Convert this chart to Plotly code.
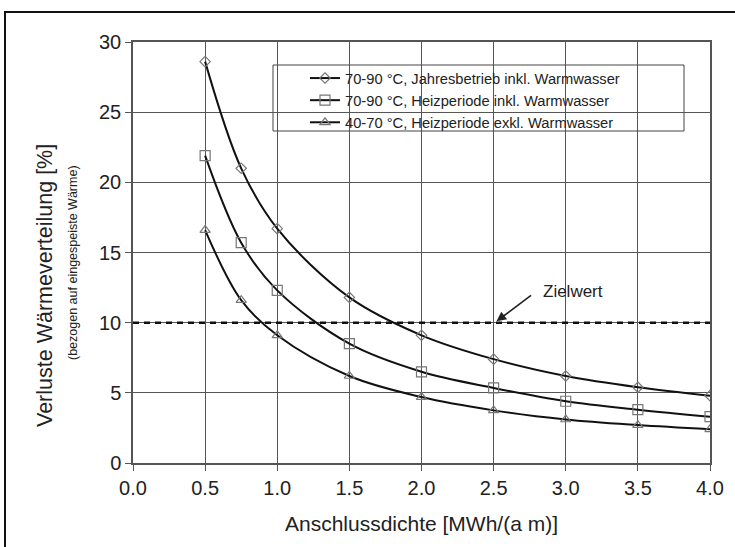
import plotly.graph_objects as go

x_vals = [0.5, 0.75, 1.0, 1.5, 2.0, 2.5, 3.0, 3.5, 4.0]
s1 = [28.6, 21.0, 16.7, 11.8, 9.1, 7.4, 6.2, 5.4, 4.8]
s2 = [21.9, 15.7, 12.3, 8.5, 6.5, 5.35, 4.4, 3.8, 3.3]
s3 = [16.6, 11.6, 9.1, 6.2, 4.7, 3.75, 3.1, 2.7, 2.4]
names = ["70-90 °C, Jahresbetrieb inkl. Warmwasser",
         "70-90 °C, Heizperiode inkl. Warmwasser",
         "40-70 °C, Heizperiode exkl. Warmwasser"]
symbols = ["diamond-open", "square-open", "triangle-up-open"]
sizes = [8, 10, 9]
x_ticks = [0.0, 0.5, 1.0, 1.5, 2.0, 2.5, 3.0, 3.5, 4.0]
x_ticktext = ["0.0", "0.5", "1.0", "1.5", "2.0", "2.5", "3.0", "3.5", "4.0"]
y_ticks = [0, 5, 10, 15, 20, 25, 30]
target = 10

FONT = "Liberation Sans, Arial, sans-serif"
TXT = "#222222"
GRID = "#555555"

fig = go.Figure()
for ys, nm, sym, sz in zip([s1, s2, s3], names, symbols, sizes):
    fig.add_trace(go.Scatter(
        x=x_vals, y=ys, name=nm, mode="lines+markers",
        line=dict(color="#111111", width=2, shape="spline", smoothing=1.0),
        marker=dict(symbol=sym, size=sz, color="#777777", line=dict(width=1.2, color="#777777")),
    ))

fig.add_trace(go.Scatter(
    x=[0.0, 4.0], y=[target, target], mode="lines", showlegend=False,
    line=dict(color="#111111", width=2.5, dash="6px,5px"), hoverinfo="skip"))

# plot area in pixels: x 133..710, y 42..463
L, R, T, B = 133, 710, 42, 463
W, H = R - L, B - T
def px(p): return (p - L) / W
def py(p): return (B - p) / H

shapes = [
    dict(type="rect", xref="paper", yref="paper",
         x0=px(5), x1=px(745), y0=py(12), y1=py(560),
         line=dict(color="#111111", width=2), layer="above"),
    dict(type="rect", xref="paper", yref="paper",
         x0=px(273), x1=px(684), y0=py(65), y1=py(131),
         line=dict(color="#444444", width=1), fillcolor="white", layer="below"),
]

annotations = [
    dict(x=2.52, y=10.1, xref="x", yref="y", ax=36, ay=-27, axref="pixel", ayref="pixel",
         text="", showarrow=True, arrowhead=2, arrowsize=1.2, arrowwidth=1.6, arrowcolor="#222222"),
    dict(x=3.05, y=12.2, xref="x", yref="y", text="Zielwert", showarrow=False,
         font=dict(family=FONT, size=17, color=TXT)),
    dict(x=px(45), y=py(286), xref="paper", yref="paper", text="Verluste Wärmeverteilung [%]",
         xanchor="center", yanchor="middle",
         textangle=-90, showarrow=False, font=dict(family=FONT, size=21.5, color=TXT)),
    dict(x=px(73), y=py(263), xref="paper", yref="paper", text="(bezogen auf eingespeiste Wärme)",
         xanchor="center", yanchor="middle",
         textangle=-90, showarrow=False, font=dict(family=FONT, size=12.5, color=TXT)),
]

fig.update_layout(
    width=735, height=547,
    margin=dict(l=L, r=735 - R, t=T, b=547 - B),
    paper_bgcolor="white", plot_bgcolor="white",
    font=dict(family=FONT, color=TXT),
    shapes=shapes, annotations=annotations,
    legend=dict(x=px(305), y=py(62), xanchor="left", yanchor="top",
                bgcolor="rgba(0,0,0,0)", borderwidth=0,
                font=dict(family=FONT, size=14.7, color=TXT),
                tracegroupgap=0, itemwidth=30),
    xaxis=dict(range=[0, 4.0], tickvals=x_ticks, ticktext=x_ticktext,
               showgrid=True, gridcolor=GRID, gridwidth=1.3,
               showline=True, linecolor=GRID, linewidth=1.5, mirror=True,
               ticks="outside", ticklen=6, tickcolor=GRID, zeroline=False,
               tickfont=dict(family=FONT, size=20, color=TXT),
               title=dict(text="Anschlussdichte [MWh/(a m)]", standoff=19,
                          font=dict(family=FONT, size=21, color=TXT))),
    yaxis=dict(range=[0, 30], tickvals=y_ticks,
               showgrid=True, gridcolor=GRID, gridwidth=1.3,
               showline=True, linecolor=GRID, linewidth=1.5, mirror=True,
               ticks="outside", ticklen=6, tickcolor=GRID, zeroline=False,
               tickfont=dict(family=FONT, size=20, color=TXT)),
)

fig.write_html("out.html", config={"displayModeBar": False},
               post_script="document.body.style.margin='0';document.body.style.padding='0';")
